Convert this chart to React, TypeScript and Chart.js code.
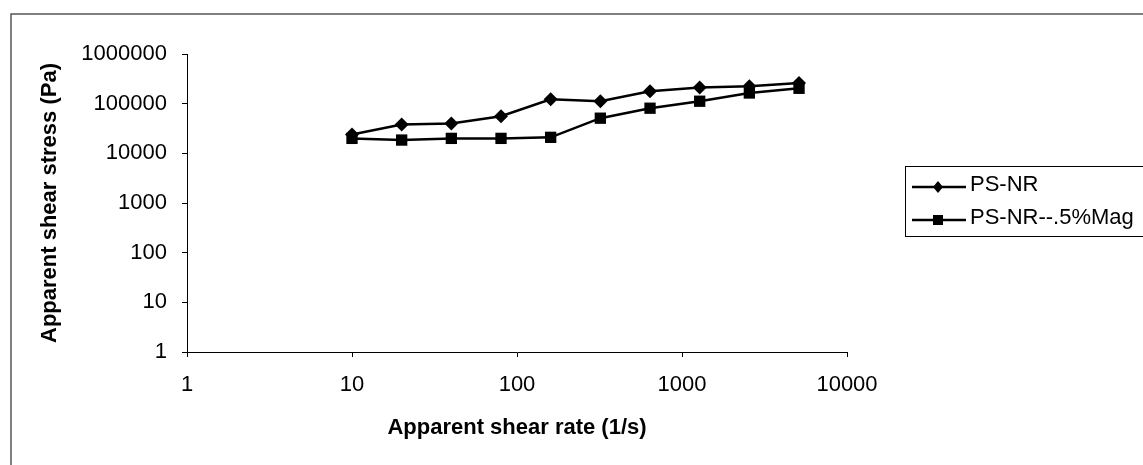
import React, { useEffect, useRef } from "react";
import { Chart, registerables } from "chart.js";

Chart.register(...registerables);

const shearRate = [10, 20, 40, 80, 160, 320, 640, 1280, 2560, 5120];
const psNR = [24000, 38000, 40000, 56000, 123000, 112000, 178000, 212000, 225000, 262000];
const psNRMag = [20000, 18500, 20000, 20000, 21000, 51000, 81000, 112000, 164000, 204000];
const seriesNames = ["PS-NR", "PS-NR--.5%Mag"];
const yTicks = [1, 10, 100, 1000, 10000, 100000, 1000000];
const xTicks = [1, 10, 100, 1000, 10000];

const FONT = "Liberation Sans, Arial, sans-serif";

const frameAndLegend = {
  id: "frameAndLegend",
  afterDraw(chart: any) {
    const ctx = chart.ctx;
    ctx.save();
    // outer frame
    ctx.strokeStyle = "#555";
    ctx.lineWidth = 1.5;
    ctx.strokeRect(11, 14, 1160, 480);
    // legend box
    ctx.strokeStyle = "#000";
    ctx.lineWidth = 1;
    ctx.strokeRect(905.5, 166.5, 260, 70);
    const rows = [187, 220];
    chart.data.datasets.forEach((ds: any, i: number) => {
      const y = rows[i];
      ctx.strokeStyle = "#000";
      ctx.lineWidth = 2.5;
      ctx.beginPath();
      ctx.moveTo(912, y);
      ctx.lineTo(966, y);
      ctx.stroke();
      ctx.fillStyle = "#000";
      const cx = 938;
      if (ds.pointStyle === "rectRot") {
        ctx.beginPath();
        ctx.moveTo(cx, y - 6);
        ctx.lineTo(cx + 5, y);
        ctx.lineTo(cx, y + 6);
        ctx.lineTo(cx - 5, y);
        ctx.closePath();
        ctx.fill();
      } else {
        ctx.fillRect(cx - 5, y - 5, 10, 10);
      }
      ctx.font = "22px " + FONT;
      ctx.textBaseline = "middle";
      ctx.textAlign = "left";
      ctx.fillText(ds.label, 970, y - 2);
    });
    ctx.restore();
  },
};

export default function App() {
  const ref = useRef<HTMLCanvasElement>(null);
  useEffect(() => {
    document.body.style.margin = "0";
    const ctx = ref.current!.getContext("2d")!;
    const chart = new Chart(ctx, {
      type: "scatter",
      data: {
        datasets: [
          {
            label: seriesNames[0],
            data: shearRate.map((x, i) => ({ x, y: psNR[i] })),
            showLine: true,
            borderColor: "#000",
            backgroundColor: "#000",
            borderWidth: 2.5,
            pointStyle: "rectRot",
            pointRadius: 7,
            pointBorderWidth: 0,
          },
          {
            label: seriesNames[1],
            data: shearRate.map((x, i) => ({ x, y: psNRMag[i] })),
            showLine: true,
            borderColor: "#000",
            backgroundColor: "#000",
            borderWidth: 2.5,
            pointStyle: "rect",
            pointRadius: 8,
            pointBorderWidth: 0,
          },
        ],
      },
      options: {
        animation: false,
        responsive: false,
        layout: { padding: { left: 33, top: 54, right: 296, bottom: 20 } },
        plugins: { legend: { display: false }, tooltip: { enabled: false } },
        scales: {
          x: {
            type: "logarithmic",
            min: 1,
            max: 10000,
            afterBuildTicks: (s: any) => {
              s.ticks = xTicks.map((v) => ({ value: v }));
            },
            afterFit: (s: any) => {
              s.height = 93;
            },
            ticks: {
              color: "#000",
              font: { size: 22, family: FONT },
              padding: 15,
              maxRotation: 0,
              autoSkip: false,
              callback: (v: any) => String(v),
            },
            grid: { drawOnChartArea: false, drawTicks: true, tickLength: 5, color: "#000" },
            border: { display: true, color: "#000", width: 1 },
            title: {
              display: true,
              text: "Apparent shear rate (1/s)",
              color: "#000",
              font: { size: 22, weight: "bold", family: FONT },
            },
          },
          y: {
            type: "logarithmic",
            min: 1,
            max: 1000000,
            afterBuildTicks: (s: any) => {
              s.ticks = yTicks.map((v) => ({ value: v }));
            },
            afterFit: (s: any) => {
              s.width = 154;
            },
            ticks: {
              color: "#000",
              font: { size: 22, family: FONT },
              padding: 15,
              autoSkip: false,
              callback: (v: any) => String(v),
            },
            grid: { drawOnChartArea: false, drawTicks: true, tickLength: 5, color: "#000" },
            border: { display: true, color: "#000", width: 1 },
            title: {
              display: true,
              text: "Apparent shear stress (Pa)",
              color: "#000",
              font: { size: 22, weight: "bold", family: FONT },
            },
          },
        },
      },
      plugins: [frameAndLegend],
    });
    return () => chart.destroy();
  }, []);
  return (
    <div style={{ width: 1143, height: 465, background: "#fff" }}>
      <canvas ref={ref} width={1143} height={465} style={{ display: "block" }} />
    </div>
  );
}
